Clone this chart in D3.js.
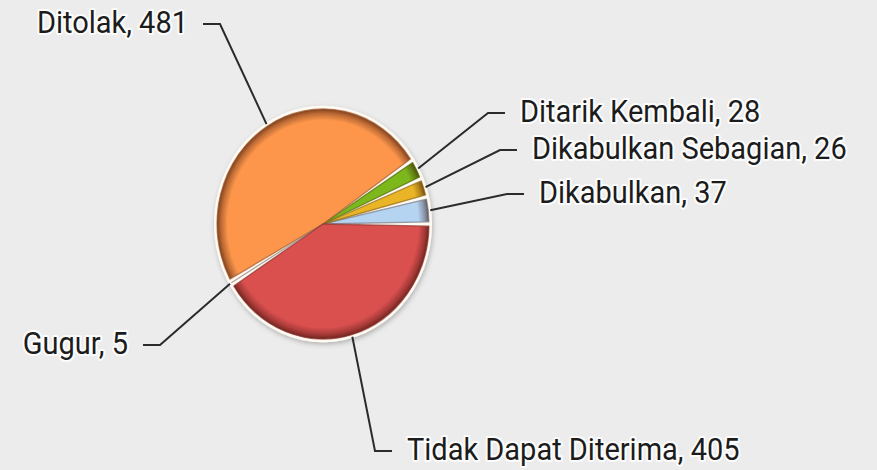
<!DOCTYPE html>
<html><head><meta charset="utf-8">
<script src="https://cdn.jsdelivr.net/npm/d3@7"></script>
<style>
html,body{margin:0;padding:0;background:#ececec;}
svg{display:block;}
text{font-family:Roboto,"Noto Sans",sans-serif;}
</style></head>
<body>
<svg id="chart" width="877" height="470"></svg>
<script>
// ---- data ----
const categories = ["Dikabulkan","Dikabulkan Sebagian","Ditarik Kembali","Ditolak","Gugur","Tidak Dapat Diterima"];
const values = [37, 26, 28, 481, 5, 405];
const colors = ["#b4d4f2","#e9b526","#7cb81c","#fd964b","#d9d9d9","#d9504f"];

// ---- layout (label elbows, not data) ----
const labelLayout = {
  "Ditolak":              {ex:220, ey:24,  side:"left"},
  "Ditarik Kembali":      {ex:488, ey:113, side:"right"},
  "Dikabulkan Sebagian":  {ex:500, ey:150, side:"right"},
  "Dikabulkan":           {ex:507, ey:194, side:"right"},
  "Gugur":                {ex:160, ey:345, side:"left"},
  "Tidak Dapat Diterima": {ex:375, ey:451, side:"right"}
};

const W = 877, H = 470;
const cx = 323, cy = 224, r = 107, sy = 1.085;

const svg = d3.select("#chart");
svg.append("rect").attr("width",W).attr("height",H).attr("fill","#ececec");

const defs = svg.append("defs");
const shadow = defs.append("filter").attr("id","shadow").attr("x","-20%").attr("y","-20%").attr("width","140%").attr("height","140%");
shadow.append("feDropShadow").attr("dx",1).attr("dy",2).attr("stdDeviation",2.5).attr("flood-color","#000").attr("flood-opacity",0.25);

colors.forEach((c,i)=>{
  const dark = d3.interpolateRgb(c,"#2a0800")(0.6);
  const rg = defs.append("radialGradient").attr("id","grad"+i)
    .attr("gradientUnits","userSpaceOnUse").attr("cx",0).attr("cy",0).attr("r",r-1);
  rg.append("stop").attr("offset","0%").attr("stop-color",c);
  rg.append("stop").attr("offset","90%").attr("stop-color",c);
  rg.append("stop").attr("offset","96%").attr("stop-color",d3.interpolateRgb(c,"#2a0800")(0.3));
  rg.append("stop").attr("offset","100%").attr("stop-color",dark);
});

const data = categories.map((c,i)=>({cat:c, value:values[i], color:colors[i], idx:i}));
const pie = d3.pie().value(d=>d.value).sort(null)
  .startAngle(Math.PI/2).endAngle(Math.PI/2 - 2*Math.PI);
const arcs = pie(data);

const g = svg.append("g").attr("transform",`translate(${cx},${cy}) scale(1,${sy})`);

// cream base with shadow
g.append("ellipse").attr("rx",r+2).attr("ry",r+2)
  .attr("fill","#fffbf2").attr("filter","url(#shadow)");

const arc = d3.arc().innerRadius(0).outerRadius(r-1).padAngle(0.05).padRadius(80);
g.selectAll("path.slice").data(arcs).join("path")
  .attr("class","slice")
  .attr("d",arc)
  .attr("fill",d=>`url(#grad${d.data.idx})`)
  .attr("stroke",d=>d3.interpolateRgb(d.data.color,"#2a0800")(0.45))
  .attr("stroke-width",1.2)
  .attr("stroke-opacity",0.7)
  .attr("stroke-linejoin","round");

// leader lines and labels
const lg = svg.append("g");
arcs.forEach(a=>{
  const mid = (a.startAngle + a.endAngle)/2;
  const px = cx + (r+1)*Math.sin(mid);
  const py = cy - (r+1)*sy*Math.cos(mid);
  const L = labelLayout[a.data.cat];
  const dir = L.side === "right" ? 1 : -1;
  const hx = L.ex + dir*17;
  lg.append("path")
    .attr("d",`M${px},${py}L${L.ex},${L.ey}L${hx},${L.ey}`)
    .attr("fill","none").attr("stroke","#2b2b2b").attr("stroke-width",2);
  const tx = hx + dir*15, ty = L.ey + 9;
  lg.append("text")
    .attr("transform",`translate(${tx},${ty}) scale(1,1.05)`)
    .attr("text-anchor", dir>0 ? "start" : "end")
    .attr("font-size",29)
    .attr("fill","#1c1c1c")
    .attr("stroke","#ffffff").attr("stroke-width",4).attr("stroke-linejoin","round")
    .attr("stroke-opacity",0.85)
    .attr("paint-order","stroke")
    .text(`${a.data.cat}, ${a.data.value}`);
});
</script>
</body></html>
